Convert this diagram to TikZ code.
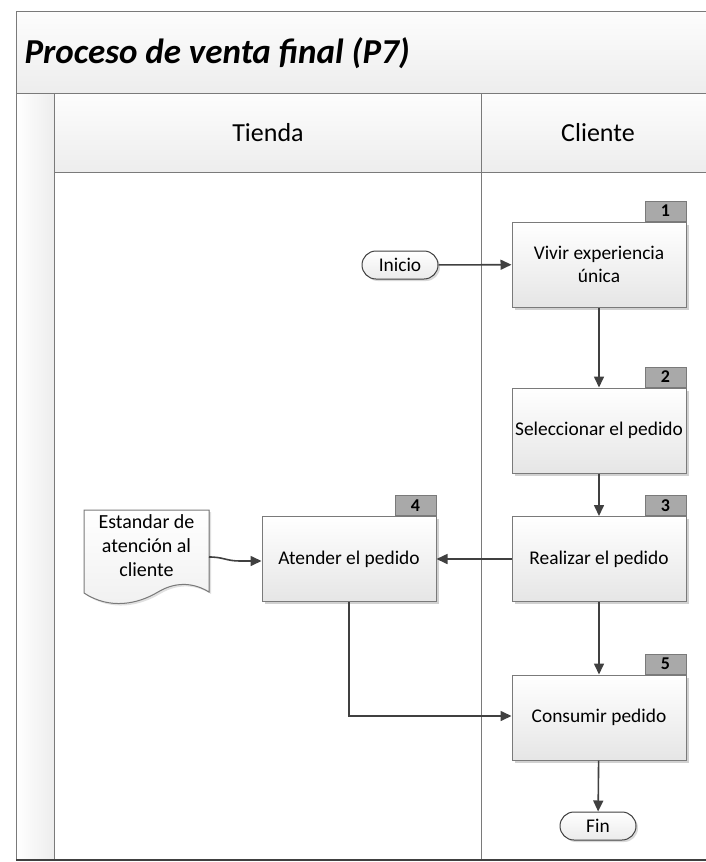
\documentclass[tikz,border=0pt]{standalone}
\usepackage{fontspec}
\setmainfont{Carlito}
\usetikzlibrary{arrows.meta,shadows,positioning}

\definecolor{linegray}{HTML}{7A7A7A}
\definecolor{arrowgray}{HTML}{404040}
\definecolor{tabgray}{HTML}{A9A9A9}
\definecolor{bandtop}{HTML}{FDFDFD}
\definecolor{bandbot}{HTML}{EDEDED}

\tikzset{
  stepbox/.style={draw=linegray, line width=1pt, minimum width=174pt, minimum height=85pt,
    top color=white, bottom color=black!10, align=center, inner sep=2pt,
    font=\fontsize{19.4}{23}\selectfont,
    drop shadow={shadow xshift=2.5pt, shadow yshift=-2.5pt, fill=black!18, opacity=1}},
  numtab/.style={draw=linegray, line width=1pt, fill=tabgray, minimum width=41pt,
    minimum height=20pt, inner sep=0pt, font=\fontsize{18}{20}\selectfont\bfseries},
  terminal/.style={draw=arrowgray, line width=1pt, rounded corners=14pt, minimum width=76pt,
    minimum height=28pt, top color=white, bottom color=black!8, inner sep=0pt,
    font=\fontsize{19.4}{22}\selectfont,
    drop shadow={shadow xshift=2pt, shadow yshift=-2pt, fill=black!15, opacity=1}},
  flow/.style={draw=arrowgray, line width=1.6pt, -{Triangle[length=11pt,width=10pt]}},
  lane/.style={draw=linegray, line width=1pt},
  hdr/.style={font=\fontsize{26}{30}\selectfont},
}

\begin{document}
\begin{tikzpicture}[x=1pt,y=-1pt]
\useasboundingbox (0,0) rectangle (706,862);

% title band and lane headers
\shade[top color=bandtop, bottom color=bandbot] (16,11) rectangle (706,93);
\shade[top color=bandtop, bottom color=bandbot] (54,93) rectangle (706,172);
\shade[left color=white, right color=bandbot] (16,93) rectangle (54,860);
\node[anchor=west, font=\fontsize{35}{40}\selectfont\bfseries\itshape] (title) at (21,53) {Proceso de venta final (P7)};
\node[hdr] (tienda) at (268,133) {Tienda};
\node[hdr] (cliente) at (598,133) {Cliente};

% frame lines
\draw[lane] (706,11) -- (16,11) -- (16,860);
\draw[lane] (16,93) -- (706,93);
\draw[lane] (54,93) -- (54,860);
\draw[lane] (54,172) -- (706,172);
\draw[lane] (481,93) -- (481,860);
\draw[draw=arrowgray, line width=2.5pt] (16,860) -- (706,860);

% process steps
\node[stepbox] (s1) at (599,264.5) {Vivir experiencia\\única};
\node[stepbox] (s2) at (599,430.5) {Seleccionar el pedido};
\node[stepbox] (s3) at (599,559) {Realizar el pedido};
\node[stepbox] (s4) at (349,559) {Atender el pedido};
\node[stepbox] (s5) at (599,717.5) {Consumir pedido};

\node[numtab, anchor=south east] (t1) at (s1.north east) {1};
\node[numtab, anchor=south east] (t2) at (s2.north east) {2};
\node[numtab, anchor=south east] (t3) at (s3.north east) {3};
\node[numtab, anchor=south east] (t4) at (s4.north east) {4};
\node[numtab, anchor=south east] (t5) at (s5.north east) {5};

% start and end
\node[terminal] (ini) at (400,265) {Inicio};
\node[terminal] (fin) at (598,826) {Fin};

% document symbol
\filldraw[draw=linegray, line width=1pt, top color=white, bottom color=black!6,
  drop shadow={shadow xshift=2pt, shadow yshift=-2pt, fill=black!12, opacity=1}]
  (84,510) -- (209,510) -- (209,592)
  .. controls (196,584) and (178,580) .. (158,592)
  .. controls (138,604) and (110,610) .. (84,593) -- cycle;
\node[align=center, font=\fontsize{20}{24}\selectfont] (doc) at (146.5,546) {Estandar de\\atención al\\cliente};
\coordinate (docout) at (209,557);

% connectors
\draw[flow] (ini) -- (s1);
\draw[flow] (s1) -- (s2);
\draw[flow] (s2) -- (s3);
\draw[flow] (s3) -- (s4);
\draw[flow] (s3) -- (s5);
\draw[flow] (s5) -- (fin);
\draw[flow] (docout) .. controls (224,557) and (226,561) .. (240,561) -- (s4.west |- 0,561);
\draw[flow] (s4.south) -- (349,716) -- (s5.west |- 0,716);
\end{tikzpicture}
\end{document}
